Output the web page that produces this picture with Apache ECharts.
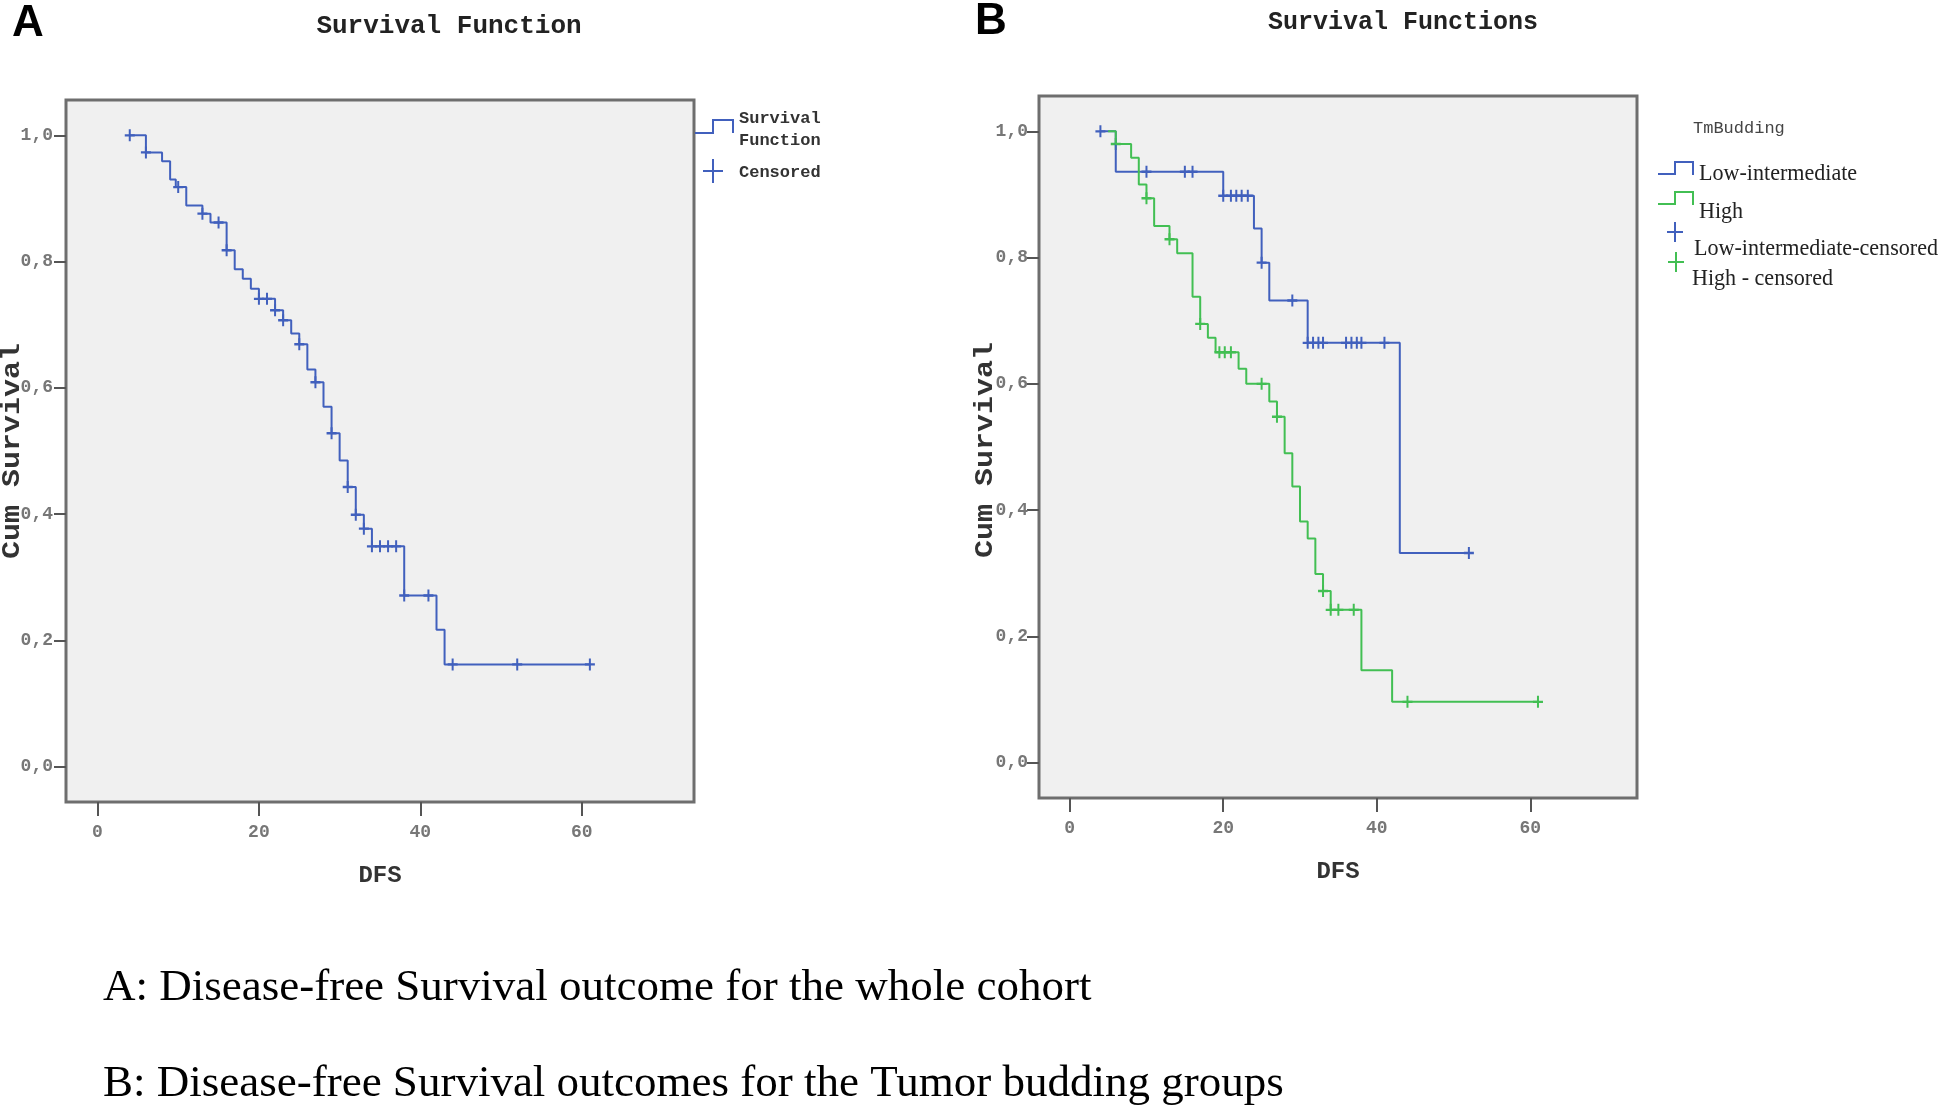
<!DOCTYPE html>
<html>
<head>
<meta charset="utf-8">
<script src="https://cdn.jsdelivr.net/npm/echarts@6/dist/echarts.min.js"></script>
<style>
html,body{margin:0;padding:0;background:#fff;}
#chart{width:1946px;height:1105px;}
</style>
</head>
<body>
<div id="chart"></div>
<script>
// ---- Data ----
// Panel A: whole cohort, Kaplan-Meier step points (time, survival after the drop)
const timesA = [4, 6, 8, 9, 9.7, 11, 13, 14, 16, 17, 18, 19, 20, 22, 23, 24, 25, 26, 27, 28, 29, 30, 31, 32, 33, 34, 38, 42, 43, 61];
const survA  = [1.0, 0.973, 0.959, 0.930, 0.918, 0.889, 0.876, 0.862, 0.818, 0.788, 0.773, 0.757, 0.741, 0.723, 0.707, 0.686, 0.669, 0.629, 0.609, 0.570, 0.528, 0.485, 0.443, 0.399, 0.377, 0.349, 0.271, 0.217, 0.162, 0.162];
const censorA = [4, 6, 10, 13, 15, 16, 20, 21, 22, 23, 25, 27, 29, 31, 32, 33, 34, 35, 36, 37, 38, 41, 44, 52, 61];

// Panel B: tumor budding groups
const timesLow = [4, 6, 20, 24, 25, 26, 31, 43, 52];
const survLow  = [1.0, 0.936, 0.898, 0.846, 0.792, 0.732, 0.665, 0.332, 0.332];
const censorLow = [4, 10, 15, 16, 20, 21, 21.7, 22.4, 23.2, 25, 29, 31, 31.7, 32.4, 33, 36, 36.7, 37.4, 38, 41, 52];

const timesHigh = [5, 6, 8, 9, 10, 11, 13, 14, 16, 17, 18, 19, 22, 23, 26, 27, 28, 29, 30, 31, 32, 33, 34, 38, 42, 61];
const survHigh  = [1.0, 0.980, 0.958, 0.916, 0.894, 0.850, 0.829, 0.807, 0.738, 0.695, 0.673, 0.650, 0.624, 0.600, 0.572, 0.548, 0.490, 0.4375, 0.382, 0.355, 0.299, 0.272, 0.242, 0.1465, 0.0963, 0.0963];
const censorHigh = [6, 10, 13, 17, 19.5, 20.2, 21, 25, 27, 33, 34, 35, 37, 44, 61];

// Tick labels
const xTicks = [0, 20, 40, 60];
const yTicks = [0, 0.2, 0.4, 0.6, 0.8, 1.0];

// Text
const titleA = 'Survival Function';
const titleB = 'Survival Functions';
const xName = 'DFS';
const yName = 'Cum Survival';
const captionA = 'A: Disease-free Survival outcome for the whole cohort';
const captionB = 'B: Disease-free Survival outcomes for the Tumor budding groups';

// ---- Helpers ----
function stepValue(times, surv, t) {
  let v = surv[0];
  for (let i = 0; i < times.length; i++) { if (times[i] <= t + 1e-9) v = surv[i]; }
  return v;
}
const BLUE = '#4160bd';
const GREEN = '#42bf53';
const MONO = '"Liberation Mono", "DejaVu Sans Mono", monospace';
const SERIF = '"Liberation Serif", "DejaVu Serif", serif';
const PLUS = 'path://M4,0h2v10h-2zM0,4h10v2h-10z';

function makeX(gridIndex, min) {
  return {
    gridIndex, type: 'value', min: min, max: 73.9,
    axisLine: { show: false, onZero: false },
    splitLine: { show: false },
    axisTick: { show: true, length: 14, customValues: xTicks, lineStyle: { color: '#555', width: 2 } },
    axisLabel: { customValues: xTicks, margin: 21, fontFamily: MONO, fontSize: 18, fontWeight: 'bold', color: '#777' },
    name: xName, nameLocation: 'middle', nameGap: 62,
    nameTextStyle: { fontFamily: MONO, fontSize: 24, fontWeight: 'bold', color: '#333' }
  };
}
function makeY(gridIndex, margin) {
  return {
    gridIndex, type: 'value', min: -0.056, max: 1.056,
    axisLine: { show: false, onZero: false },
    splitLine: { show: false },
    axisTick: { show: true, length: 12, customValues: yTicks, lineStyle: { color: '#555', width: 2 } },
    axisLabel: { customValues: yTicks, margin: margin, fontFamily: MONO, fontSize: 18, fontWeight: 'bold', color: '#777',
      formatter: v => (Math.round(v * 10) / 10).toFixed(1).replace('.', ',') }
  };
}
function kmLine(times, surv, color, xi) {
  return {
    type: 'line', xAxisIndex: xi, yAxisIndex: xi, step: 'end', symbol: 'none',
    lineStyle: { color: color, width: 2 },
    data: times.map((t, i) => [t, surv[i]])
  };
}
function censorMarks(times, surv, cens, color, xi) {
  return {
    type: 'scatter', xAxisIndex: xi, yAxisIndex: xi, symbol: PLUS, symbolSize: [10, 12],
    itemStyle: { color: color, opacity: 1 },
    data: cens.map(t => [t, stepValue(times, surv, t)])
  };
}
function txt(x, y, text, font, fill, align, extra) {
  const el = { type: 'text', x: x, y: y, silent: true,
    style: { text: text, font: font, fill: fill || '#222', align: align || 'left', verticalAlign: 'middle' } };
  return Object.assign(el, extra || {});
}
function poly(points, color) {
  return { type: 'polyline', silent: true, shape: { points: points }, style: { stroke: color, lineWidth: 2, fill: null } };
}
const LEGB = '24px ' + SERIF;
const LEGSCALE = { scaleX: 0.92 };

const chart = echarts.init(document.getElementById('chart'), null, { renderer: 'canvas' });
chart.setOption({
  animation: false,
  backgroundColor: '#ffffff',
  grid: [
    { left: 66, top: 100, width: 628, height: 702, outerBoundsMode: 'none', containLabel: false, show: true, backgroundColor: '#f0f0f0', borderColor: '#6e6e6e', borderWidth: 3 },
    { left: 1039, top: 96, width: 598, height: 702, outerBoundsMode: 'none', containLabel: false, show: true, backgroundColor: '#f0f0f0', borderColor: '#6e6e6e', borderWidth: 3 }
  ],
  xAxis: [makeX(0, -3.9), makeX(1, -4.0)],
  yAxis: [makeY(0, 13), makeY(1, 11)],
  series: [
    kmLine(timesA, survA, BLUE, 0),
    censorMarks(timesA, survA, censorA, BLUE, 0),
    kmLine(timesLow, survLow, BLUE, 1),
    censorMarks(timesLow, survLow, censorLow, BLUE, 1),
    kmLine(timesHigh, survHigh, GREEN, 1),
    censorMarks(timesHigh, survHigh, censorHigh, GREEN, 1)
  ],
  graphic: [
    txt(12, 24, 'A', 'bold 44px "Liberation Sans", Arial, sans-serif', '#000'),
    txt(975, 22, 'B', 'bold 44px "Liberation Sans", Arial, sans-serif', '#000'),
    txt(449, 26, titleA, 'bold 26px ' + MONO, '#222', 'center'),
    txt(1403, 23, titleB, 'bold 25px ' + MONO, '#222', 'center'),
    // y-axis titles (rotated)
    txt(13, 451, yName, 'bold 25px ' + MONO, '#333', 'center', { rotation: Math.PI / 2, scaleX: 1.2 }),
    txt(986, 450, yName, 'bold 25px ' + MONO, '#333', 'center', { rotation: Math.PI / 2, scaleX: 1.2 }),
    // Legend A
    poly([[695, 133], [713, 133], [713, 120], [733, 120], [733, 133]], BLUE),
    txt(739, 119, 'Survival', 'bold 17px ' + MONO, '#333'),
    txt(739, 141, 'Function', 'bold 17px ' + MONO, '#333'),
    poly([[703, 171], [723, 171]], BLUE),
    poly([[713, 159], [713, 183]], BLUE),
    txt(739, 173, 'Censored', 'bold 17px ' + MONO, '#333'),
    // Legend B
    txt(1693, 128, 'TmBudding', '17px ' + MONO, '#444'),
    poly([[1658, 174], [1675, 174], [1675, 162], [1693, 162], [1693, 175]], BLUE),
    txt(1699, 174, 'Low-intermediate', LEGB, '#222', 'left', LEGSCALE),
    poly([[1658, 204], [1675, 204], [1675, 192], [1693, 192], [1693, 205]], GREEN),
    txt(1699, 212, 'High', LEGB, '#222', 'left', LEGSCALE),
    poly([[1667, 232], [1683, 232]], BLUE),
    poly([[1675, 222], [1675, 242]], BLUE),
    txt(1694, 249, 'Low-intermediate-censored', LEGB, '#222', 'left', LEGSCALE),
    poly([[1668, 262], [1684, 262]], GREEN),
    poly([[1676, 252], [1676, 272]], GREEN),
    txt(1692, 279, 'High - censored', LEGB, '#222', 'left', LEGSCALE),
    // Captions
    txt(103, 988, captionA, '45px ' + SERIF, '#000'),
    txt(103, 1084, captionB, '45px ' + SERIF, '#000')
  ]
});
</script>
</body>
</html>
